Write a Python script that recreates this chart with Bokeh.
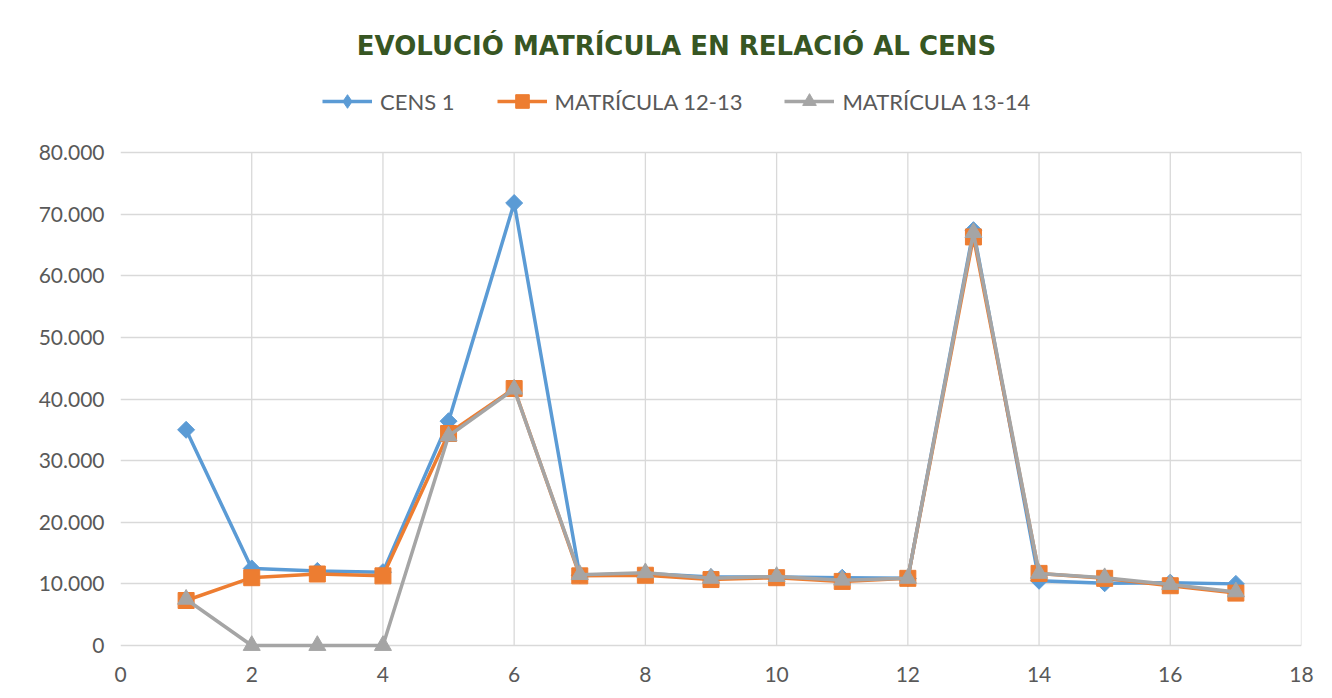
import math
from bokeh.plotting import figure
from bokeh.models import (Range1d, FixedTicker, Legend, LegendItem, Label)
from bokeh.embed import file_html
from bokeh.resources import INLINE

# ---- data ----
x_vals = list(range(1, 18))
cens_1 = [35000, 12500, 12100, 11900, 36400, 71800, 11400, 11700, 11100, 11100,
          11000, 10900, 67400, 10500, 10100, 10200, 10000]
matricula_12_13 = [7300, 11000, 11600, 11300, 34400, 41700, 11300, 11400, 10700, 11000,
                   10400, 10900, 66300, 11700, 10900, 9700, 8500]
matricula_13_14 = [7500, 0, 0, 0, 34000, 41600, 11500, 11800, 10900, 11200,
                   10600, 10900, 67000, 11700, 11000, 9900, 8700]

series_names = ["CENS 1", "MATRÍCULA 12-13", "MATRÍCULA 13-14"]
title_text = "EVOLUCIÓ MATRÍCULA EN RELACIÓ AL CENS"

x_ticks = [0, 2, 4, 6, 8, 10, 12, 14, 16, 18]
y_ticks = [0, 10000, 20000, 30000, 40000, 50000, 60000, 70000, 80000]
y_tick_labels = ["0", "10.000", "20.000", "30.000", "40.000", "50.000", "60.000", "70.000", "80.000"]
x_min, x_max = 0, 18
y_min, y_max = 0, 80000

# ---- layout (pixels) ----
W, H = 1332, 698
LEFT, RIGHT = 120, 31
PLOT_TOP = 152            # pixel row of the top (80.000) line
ZERO_ROW = 645            # pixel row of the 0 line
FRAME_BOTTOM = 656        # frame extends a little below 0 so markers at 0 are not clipped
BOTTOM = H - FRAME_BOTTOM
px_per_unit = (ZERO_ROW - PLOT_TOP) / (y_max - y_min)
y_low = y_min - (FRAME_BOTTOM - ZERO_ROW) / px_per_unit
y_top = y_max + PLOT_TOP / px_per_unit

# ---- styles ----
BLUE = "#5b9bd5"
ORANGE = "#ed7d31"
GRAY = "#a5a5a5"
GRID = "#d9d9d9"
TXT = "#595959"
FONT = "Lato"

p = figure(width=W, height=H, output_backend="svg", toolbar_location=None,
           x_range=Range1d(x_min, x_max), y_range=Range1d(y_low, y_top),
           min_border_left=LEFT, min_border_right=RIGHT, min_border_top=0,
           min_border_bottom=BOTTOM)
p.title = None
p.outline_line_color = None
p.background_fill_color = "white"
p.border_fill_color = "white"

p.xaxis.ticker = FixedTicker(ticks=x_ticks)
p.yaxis.ticker = FixedTicker(ticks=y_ticks)
p.yaxis.major_label_overrides = {t: l for t, l in zip(y_ticks, y_tick_labels)}
for ax in (p.xaxis, p.yaxis):
    ax.major_tick_line_color = None
    ax.minor_tick_line_color = None
    ax.axis_line_color = None
    ax.major_label_text_font = FONT
    ax.major_label_text_font_size = "21px"
    ax.major_label_text_color = TXT
p.yaxis.major_label_standoff = 10
p.xaxis.major_label_standoff = 4

# grid: horizontal via ygrid (0 line acts as the axis line), vertical only in the data area
p.xgrid.grid_line_color = None
p.ygrid.ticker = FixedTicker(ticks=y_ticks)
p.ygrid.grid_line_color = GRID
p.ygrid.grid_line_width = 1.3
vx = [t for t in x_ticks if t > x_min]
p.segment(x0=vx, y0=[y_min] * len(vx), x1=vx, y1=[y_max] * len(vx),
          line_color=GRID, line_width=1.3)

nan = float("nan")
items = []
specs = [
    (cens_1, BLUE, "square", 12, math.pi / 4, "diamond"),
    (matricula_12_13, ORANGE, "square", 16, 0, "square"),
    (matricula_13_14, GRAY, "triangle", 17, 0, "triangle"),
]
for name, (vals, col, mk, sz, ang, legend_mk) in zip(series_names, specs):
    lr = p.line(x_vals, vals, line_color=col, line_width=3.5)
    p.scatter(x_vals, vals, marker=mk, size=sz, angle=ang,
              fill_color=col, line_color=col)
    # marker used only for the legend swatch (no data points drawn)
    proxy = p.scatter([nan], [nan], marker=legend_mk, size=sz,
                      fill_color=col, line_color=col)
    items.append(LegendItem(label=name, renderers=[lr, proxy]))

legend = Legend(items=items, orientation="horizontal", location=(202, FRAME_BOTTOM - 118),
                glyph_width=50, glyph_height=34, label_standoff=8, spacing=42,
                padding=0, margin=0, border_line_color=None,
                background_fill_alpha=0, label_text_font=FONT,
                label_text_font_size="22px", label_text_color=TXT)
p.add_layout(legend, "center")

title = Label(x=556, y=FRAME_BOTTOM - 45, x_units="screen", y_units="screen",
              text=title_text, text_align="center", text_baseline="middle",
              text_font="DejaVu Sans", text_font_style="bold",
              text_font_size="26px", text_color="#375623")
p.add_layout(title)

open("out.html", "w").write(file_html(p, INLINE))
